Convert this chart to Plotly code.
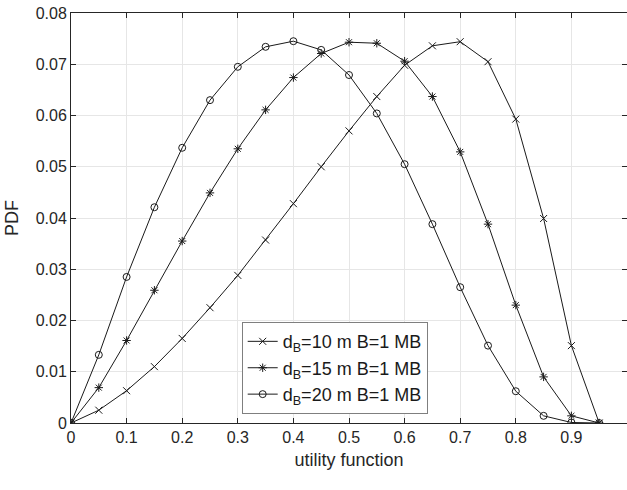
import plotly.graph_objects as go

x = [0, 0.05, 0.1, 0.15, 0.2, 0.25, 0.3, 0.35, 0.4, 0.45, 0.5, 0.55, 0.6, 0.65, 0.7, 0.75, 0.8, 0.85, 0.9, 0.95]
pdf_d10 = [0, 0.0025, 0.0063, 0.0110, 0.0165, 0.0225, 0.0288, 0.0357, 0.0428, 0.0500, 0.0570, 0.0637, 0.0698, 0.0736, 0.0744, 0.0705, 0.0593, 0.0399, 0.0151, 0.0]
pdf_d15 = [0, 0.0069, 0.0161, 0.0259, 0.0355, 0.0449, 0.0535, 0.0611, 0.0674, 0.0721, 0.0743, 0.0741, 0.0706, 0.0637, 0.0529, 0.0388, 0.0230, 0.0090, 0.0014, 0.0]
pdf_d20 = [0, 0.0133, 0.0285, 0.0421, 0.0537, 0.0630, 0.0695, 0.0734, 0.0745, 0.0728, 0.0679, 0.0604, 0.0505, 0.0388, 0.0265, 0.0151, 0.0062, 0.0014, 0.0001, 0.0]

names = ["d<sub>B</sub>=10 m B=1 MB", "d<sub>B</sub>=15 m B=1 MB", "d<sub>B</sub>=20 m B=1 MB"]
series = [pdf_d10, pdf_d15, pdf_d20]
symbols = ["x-thin-open", "asterisk-open", "circle-open"]

x_ticks = [0, 0.1, 0.2, 0.3, 0.4, 0.5, 0.6, 0.7, 0.8, 0.9, 1]
x_tick_labels = ["0", "0.1", "0.2", "0.3", "0.4", "0.5", "0.6", "0.7", "0.8", "0.9", "1"]
y_ticks = [0, 0.01, 0.02, 0.03, 0.04, 0.05, 0.06, 0.07, 0.08]
y_tick_labels = ["0", "0.01", "0.02", "0.03", "0.04", "0.05", "0.06", "0.07", "0.08"]

fig = go.Figure()
for name, ys, sym in zip(names, series, symbols):
    fig.add_trace(go.Scatter(
        x=x, y=ys, name=name, mode="lines+markers",
        line=dict(color="#1a1a1a", width=1),
        marker=dict(symbol=sym, size=7, color="#1a1a1a", line=dict(color="#1a1a1a", width=1)),
    ))

font = "Liberation Sans, Arial, sans-serif"
axis_common = dict(
    showline=True, linecolor="#262626", linewidth=1, mirror="ticks",
    ticks="inside", ticklen=5, tickcolor="#262626",
    showgrid=True, gridcolor="#e6e6e6", gridwidth=1, zeroline=False,
    tickfont=dict(family=font, size=16, color="#262626"),
)
fig.update_xaxes(range=[0, 1], tickvals=x_ticks, ticktext=x_tick_labels,
                 title=dict(text="utility function", font=dict(family=font, size=18, color="#262626"), standoff=8),
                 **axis_common)
fig.update_yaxes(range=[0, 0.08], tickvals=y_ticks, ticktext=y_tick_labels,
                 title=dict(text="PDF", font=dict(family=font, size=18, color="#262626"), standoff=12),
                 **axis_common)

fig.update_layout(
    width=627, height=490,
    margin=dict(l=71, r=0, t=13, b=67),
    plot_bgcolor="white", paper_bgcolor="white",
    font=dict(family=font, color="#262626"),
    legend=dict(x=0.307, y=0.246, xanchor="left", yanchor="top",
                bgcolor="white", bordercolor="#7f7f7f", borderwidth=1,
                font=dict(family=font, size=18, color="#1a1a1a"),
                tracegroupgap=0),
)
fig.write_html("out.html")
